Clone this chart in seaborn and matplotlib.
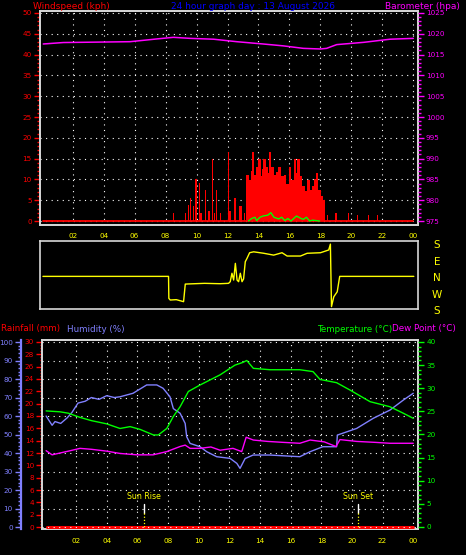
import numpy as np
import matplotlib
matplotlib.use("Agg")
import matplotlib.pyplot as plt
from matplotlib.ticker import MultipleLocator
import seaborn as sns

# ---------------- data ----------------
hour_ticks = [2, 4, 6, 8, 10, 12, 14, 16, 18, 20, 22, 24]
hour_labels = ["02", "04", "06", "08", "10", "12", "14", "16", "18", "20", "22", "00"]

title_text = "24 hour graph day : 13 August 2026"

# wind gusts (kph)
gust_h = [8.5, 9.3, 9.47, 9.62, 9.8, 9.95, 10.18, 10.3, 10.57, 10.8, 11.02, 11.15, 11.28, 11.55,
          12.06, 12.15, 12.49, 12.77, 12.87, 13.1,
          13.28, 13.43, 13.58, 13.65, 13.8, 13.93, 14.06, 14.2, 14.3, 14.38, 14.5, 14.62, 14.75,
          14.9, 15.07, 15.2, 15.37, 15.55, 15.72, 15.87, 16.03, 16.2, 16.36, 16.47, 16.58, 16.73,
          16.9, 17.07, 17.23, 17.38, 17.55, 17.66, 17.77, 17.94, 18.1, 18.24,
          18.45, 19.0, 19.8, 20.4, 21.1, 21.7]
gust_v = [1.9, 1.9, 3.8, 5.5, 3.5, 10.0, 9.1, 2.0, 7.5, 2.5, 14.9, 2.0, 7.5, 2.0,
          16.7, 2.5, 5.5, 3.6, 3.6, 2.0,
          11.0, 9.8, 12.0, 16.6, 11.0, 13.0, 15.0, 10.7, 12.5, 15.0, 13.0, 11.5, 16.7,
          13.0, 11.0, 11.8, 12.9, 10.7, 11.0, 9.0, 12.9, 9.8, 15.0, 11.5, 15.0, 10.7,
          8.4, 7.3, 9.8, 7.5, 8.4, 10.0, 11.5, 7.5, 6.0, 5.0,
          1.5, 2.0, 2.0, 1.5, 1.5, 1.5]
gust_base_h = [0.08, 24.0]
gust_base_v = [0.0, 0.0]

# average wind (kph)
avg_h = [13.35, 13.56, 13.77, 13.88, 14.09, 14.3, 14.6, 14.8, 15.0, 15.3, 15.5, 15.7, 15.9,
         16.1, 16.45, 16.75, 16.9, 17.1, 17.3, 17.5, 17.95]
avg_v = [0.0, 0.6, 0.9, 0.1, 0.9, 1.2, 1.4, 2.0, 0.9, 0.5, 0.9, 0.1, 0.6,
         0.0, 1.2, 0.6, 0.4, 0.9, 0.0, 0.2, 0.0]

# barometer (hPa)
baro_h = [0.1, 1.4, 3.55, 5.7, 7.4, 8.5, 9.6, 11.1, 12.6, 14.3, 15.6, 16.9, 18.0, 18.4,
          19.05, 20.8, 22.5, 24.0]
baro_v = [1017.55, 1017.9, 1018.0, 1018.1, 1018.75, 1019.15, 1018.9, 1018.7, 1018.1, 1017.55,
          1017.1, 1016.5, 1016.35, 1016.5, 1017.4, 1017.95, 1018.7, 1018.9]

# wind direction (degrees, east positive, N = 0)
dir_h = [0.08, 8.18, 8.2, 8.29, 8.68, 9.15, 9.26, 10.5, 11.5, 12.05, 12.16, 12.27, 12.38,
         12.49, 12.6, 12.7, 12.81, 12.92, 13.02, 13.13, 13.24, 13.41, 13.67, 14.32, 14.96,
         15.5, 15.83, 16.69, 17.12, 17.98, 18.51, 18.62, 18.69, 18.84, 19.06, 19.22, 24.0]
dir_v = [9, 9, -111, -120, -118, -129, -33, -29, -31, -29, -20, 26, -11,
         80, -11, -20, 26, -20, -5, 89, 107, 138, 143, 135, 125,
         138, 120, 120, 135, 138, 153, 185, -156, -102, -75, 9, 9]
dir_ticks = [180, 90, 0, -90, -180]
dir_labels = ["S", "E", "N", "W", "S"]

# temperature (C)
temp_h = [0.05, 0.96, 1.5, 2.26, 3.0, 4.0, 4.87, 5.53, 6.18, 7.05, 7.37, 7.92, 8.35, 8.79,
          9.33, 10.09, 11.4, 12.37, 12.9, 13.14, 13.57, 14.66, 15.96, 16.6, 17.46, 17.92,
          19.0, 19.88, 21.18, 22.48, 23.35, 24.0]
temp_v = [25.1, 24.9, 24.6, 23.7, 23.0, 22.3, 21.3, 21.7, 21.1, 19.9, 19.9, 21.3, 23.9, 26.0,
          29.3, 30.7, 32.9, 35.0, 35.6, 36.0, 34.3, 34.0, 34.0, 34.0, 33.6, 31.9,
          31.2, 29.6, 27.1, 26.0, 24.6, 23.5]

# humidity (%)
hum_h = [0.05, 0.44, 0.63, 1.0, 1.42, 1.74, 2.13, 2.6, 3.0, 3.5, 4.0, 4.5, 4.87, 5.72, 6.61,
         7.27, 7.68, 8.13, 8.35, 8.79, 9.12, 9.22, 9.44, 10.09, 10.53, 11.18, 12.05, 12.49,
         12.7, 13.03, 13.55, 14.66, 16.6, 17.27, 18.1, 19.0, 19.05, 20.31, 21.4, 22.48, 23.35, 24.0]
hum_v = [60, 55, 57, 56, 59, 62, 67, 68, 70, 69, 71, 70, 70.4, 72.3, 76.8,
         76.8, 75, 70.4, 64, 61.5, 56, 48.8, 45.2, 43.4, 40.7, 38, 37.1, 34.4,
         31.7, 37, 38.9, 38.9, 38, 40.7, 43.4, 43.4, 49.7, 53.3, 58.8, 63.2, 68.6, 72.3]

# dew point (C)
dew_h = [0.05, 0.44, 0.96, 1.5, 2.26, 3.0, 4.0, 4.87, 5.98, 7.03, 7.92, 8.79, 9.12, 9.44,
         10.09, 10.8, 11.4, 12.24, 12.81, 13.1, 13.57, 14.5, 15.5, 16.6, 17.27, 18.2, 18.96,
         19.22, 20.31, 21.5, 22.48, 24.0]
dew_v = [16.5, 15.6, 16.0, 16.4, 17.0, 16.8, 16.4, 15.9, 15.6, 15.6, 16.3, 17.4, 17.7, 17.0,
         17.0, 17.3, 16.6, 17.0, 16.3, 19.4, 18.8, 18.5, 18.3, 18.1, 18.8, 18.4, 17.4,
         18.9, 18.5, 18.3, 18.1, 18.1]

# rainfall (mm)
rain_h = [0.09, 24.0]
rain_v = [0.0, 0.0]

sunrise_h = 6.45
sunset_h = 20.42

# ---------------- style ----------------
sns.set_style("dark")
plt.rcParams['font.family'] = ['DejaVu Sans']

FRAME = '#d8d8d8'
YEL = '#ffff00'
RED = '#ff0000'
MAG = '#ff00ff'
GRN = '#00ff00'
HUM = '#8080ff'
BLUE = '#0000ff'
TFS = 5.2
DOTS = (0, (1, 4))

W, H = 466.0, 555.0
fig = plt.figure(figsize=(W / 100, H / 100), dpi=100, facecolor='black')


def rect(l, t, r, b):
    return [l / W, 1 - b / H, (r - l) / W, (b - t) / H]


def frame(ax, lw=1.4):
    for s in ax.spines.values():
        s.set_visible(True)
        s.set_color(FRAME)
        s.set_linewidth(lw)


def hide_spines(ax):
    for s in ax.spines.values():
        s.set_visible(False)


# ---------------- top panel: wind + barometer ----------------
ax1 = fig.add_axes(rect(40, 11, 417.5, 225))
ax1.set_facecolor('black')
ax1.set_axisbelow(True)
widths = [0.17 if 13.2 <= h <= 18.3 else 0.1 for h in gust_h]
ax1.bar(gust_h, gust_v, width=widths, color=RED, linewidth=0, zorder=3)
sns.lineplot(x=gust_base_h, y=gust_base_v, ax=ax1, color=RED, lw=1.3, zorder=3)
sns.lineplot(x=avg_h, y=avg_v, ax=ax1, color=GRN, lw=1.0, estimator=None, sort=False, zorder=4)
ax1.set_xlim(-0.11, 24.27)
ax1.set_ylim(-0.96, 50.48)
ax1.set_yticks(range(0, 51, 5))
ax1.yaxis.set_minor_locator(MultipleLocator(1))
ax1.set_xticks(hour_ticks)
ax1.set_xticklabels(hour_labels)
ax1.xaxis.set_minor_locator(MultipleLocator(0.5))
ax1.grid(True, color='white', ls=DOTS, lw=0.8)
ax1.tick_params(axis='y', which='both', colors=RED, labelsize=TFS, direction='out', width=1, pad=2)
ax1.tick_params(axis='y', which='major', length=4)
ax1.tick_params(axis='y', which='minor', length=2)
ax1.tick_params(axis='x', which='both', color=FRAME, labelcolor=YEL, labelsize=TFS,
                length=3, width=1, pad=3)
ax1.set_xlabel('')
ax1.set_ylabel('')
frame(ax1)

ax1b = ax1.twinx()
sns.lineplot(x=baro_h, y=baro_v, ax=ax1b, color=MAG, lw=1.1, estimator=None, sort=False)
ax1b.set_ylim(974.04, 1025.48)
ax1b.set_yticks(range(975, 1026, 5))
ax1b.yaxis.set_minor_locator(MultipleLocator(1))
ax1b.tick_params(axis='y', which='both', colors=MAG, labelsize=TFS, direction='out', width=1, pad=2)
ax1b.tick_params(axis='y', which='major', length=4)
ax1b.tick_params(axis='y', which='minor', length=2)
ax1b.set_ylabel('')
ax1b.grid(False)
hide_spines(ax1b)

# ---------------- wind direction panel ----------------
ax2 = fig.add_axes(rect(40, 241, 418, 309))
ax2.set_facecolor('black')
sns.lineplot(x=dir_h, y=dir_v, ax=ax2, color=YEL, lw=1.0, estimator=None, sort=False)
ax2.set_xlim(-0.11, 24.27)
ax2.set_ylim(-169, 202)
ax2.set_xticks([])
ax2.set_yticks([])
ax2.grid(False)
ax2.set_xlabel('')
ax2.set_ylabel('')
frame(ax2, 1.2)
for d, lab in zip(dir_ticks, dir_labels):
    ax2.text(1.05, d, lab, transform=ax2.get_yaxis_transform(), color=YEL,
             fontsize=7.5, ha='center', va='center', clip_on=False)

# ---------------- bottom panel ----------------
ax3 = fig.add_axes(rect(42.3, 340, 418.3, 529.3))
ax3.set_facecolor('black')
sns.lineplot(x=rain_h, y=rain_v, ax=ax3, color=RED, lw=2.2, zorder=5)
ax3.set_xlim(-0.2, 24.33)
ax3.set_ylim(-0.37, 30.32)
ax3.set_yticks(range(0, 31, 2))
ax3.yaxis.set_minor_locator(MultipleLocator(0.5))
ax3.set_xticks(hour_ticks)
ax3.set_xticklabels(hour_labels)
ax3.xaxis.set_minor_locator(MultipleLocator(0.5))
ax3.grid(False)
ax3.xaxis.grid(True, color='white', ls=DOTS, lw=0.8)
ax3.tick_params(axis='y', which='both', colors=RED, labelsize=TFS, direction='out', width=1, pad=2)
ax3.tick_params(axis='y', which='major', length=4)
ax3.tick_params(axis='y', which='minor', length=1.5)
ax3.tick_params(axis='x', which='both', color=FRAME, labelcolor=YEL, labelsize=TFS,
                length=3, width=1, pad=3)
ax3.set_xlabel('')
ax3.set_ylabel('')
frame(ax3)

ax3h = ax3.twinx()
sns.lineplot(x=hum_h, y=hum_v, ax=ax3h, color=HUM, lw=1.0, estimator=None, sort=False)
ax3h.set_ylim(-1.24, 101.1)
ax3h.yaxis.tick_left()
ax3h.yaxis.set_label_position('left')
hide_spines(ax3h)
ax3h.spines['left'].set_visible(True)
ax3h.spines['left'].set_position(('axes', -21.3 / 376.0))
ax3h.spines['left'].set_color(HUM)
ax3h.spines['left'].set_linewidth(1.6)
ax3h.set_yticks(range(0, 101, 10))
ax3h.yaxis.set_minor_locator(MultipleLocator(2))
ax3h.tick_params(axis='y', which='both', colors=HUM, labelsize=TFS, direction='out', width=1, pad=2)
ax3h.tick_params(axis='y', which='major', length=4)
ax3h.tick_params(axis='y', which='minor', length=2)
ax3h.grid(False)
ax3h.yaxis.grid(True, color='white', ls=DOTS, lw=0.8)
ax3h.set_ylabel('')

ax3t = ax3.twinx()
sns.lineplot(x=temp_h, y=temp_v, ax=ax3t, color=GRN, lw=1.0, estimator=None, sort=False)
sns.lineplot(x=dew_h, y=dew_v, ax=ax3t, color=MAG, lw=1.0, estimator=None, sort=False)
ax3t.set_ylim(-0.5, 40.43)
ax3t.set_yticks(range(0, 41, 5))
ax3t.yaxis.set_minor_locator(MultipleLocator(1))
ax3t.tick_params(axis='y', which='both', colors=GRN, labelsize=TFS, direction='out', width=1, pad=2)
ax3t.tick_params(axis='y', which='major', length=4)
ax3t.tick_params(axis='y', which='minor', length=2)
ax3t.grid(False)
ax3t.set_ylabel('')
hide_spines(ax3t)

# sunrise / sunset markers
tr = ax3t.get_xaxis_transform()
for h, lab in [(sunrise_h, "Sun Rise"), (sunset_h, "Sun Set")]:
    ax3t.plot([h, h], [0.134, 0.086], transform=tr, color='white', lw=1.0)
    ax3t.plot([h, h], [0.086, 0.012], transform=tr, color=YEL, lw=0.9, ls=(0, (1, 1.5)))
    ax3t.text(h, 0.171, lab, transform=tr, color=YEL, fontsize=5.6, ha='center', va='center')

# ---------------- header texts ----------------
def ftxt(x, y, s, c, fs=6.5, ha='left'):
    fig.text(x / W, 1 - y / H, s, color=c, fontsize=fs, ha=ha, va='baseline')

ftxt(33, 9, "Windspeed (kph)", RED)
ftxt(171, 9, title_text, BLUE)
ftxt(460, 9, "Barometer (hpa)", MAG, ha='right')
ftxt(1, 331.5, "Rainfall (mm)", RED, fs=6.3)
ftxt(67, 331.5, "Humidity (%)", HUM, fs=6.3)
ftxt(392, 331.5, "Temperature (\u00b0C)", GRN, fs=6.3, ha='right')
ftxt(392, 331.5, "Dew Point (\u00b0C)", MAG, fs=6.3)

fig.savefig("out.png", dpi=100, facecolor='black')
